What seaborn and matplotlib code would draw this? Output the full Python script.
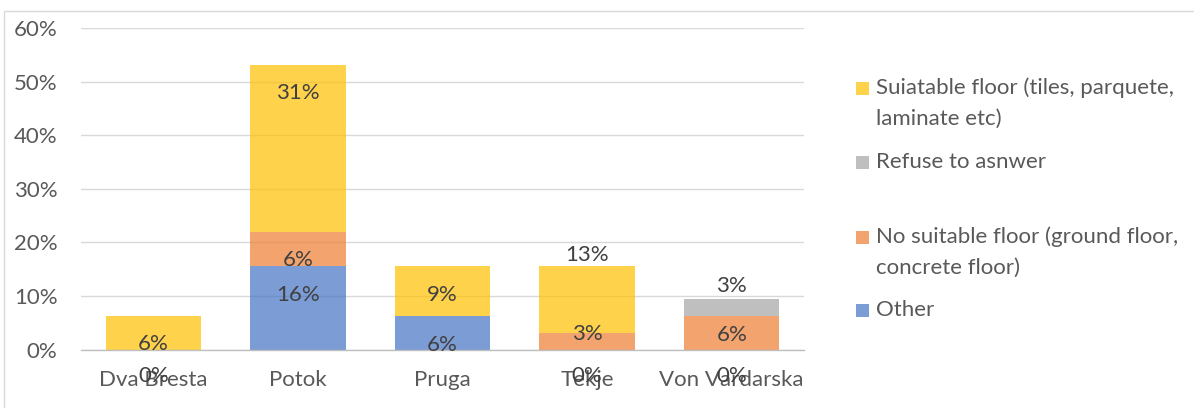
import numpy as np
import matplotlib
matplotlib.use("Agg")
import matplotlib.pyplot as plt
import seaborn as sns
from matplotlib.patches import Rectangle

# Locations and response shares (%)
categories = ["Dva Bresta", "Potok", "Pruga", "Tekje", "Von Vardarska"]
series_names = [
    "Other",
    "No suitable floor (ground floor,\nconcrete floor)",
    "Refuse to asnwer",
    "Suiatable floor (tiles, parquete,\nlaminate etc)",
]
other = [0.0, 15.625, 6.25, 0.0, 0.0]
no_suitable = [np.nan, 6.25, np.nan, 3.125, 6.25]
refuse = [np.nan, np.nan, np.nan, np.nan, 3.125]
suitable = [6.25, 31.25, 9.375, 12.5, np.nan]
yticks = [0, 10, 20, 30, 40, 50, 60]

# Where each data label sits (in % units on the value axis)
label_y_other = [-4.9, 10.2, 0.8, -4.9, -4.9]
label_y_no_suitable = [None, 16.7, None, 2.9, 2.7]
label_y_refuse = [None, None, None, None, 11.9]
label_y_suitable = [1.0, 47.8, 10.2, 17.6, None]

colors = ["#4472C4", "#ED7D31", "#A5A5A5", "#FFC000"]
ALPHA = 0.7
FONT = ["Lato", "DejaVu Sans"]
TEXT = "#595959"
LABEL = "#404040"
FS = 16

sns.set_theme(style="white")
plt.rcParams["font.family"] = FONT

fig = plt.figure(figsize=(11.94, 4.08), dpi=100)
W, H = 1194, 408

# chart frame
fig.patches.append(Rectangle((4 / W, -0.1), 1.2, (408 - 11) / H + 0.1,
                             transform=fig.transFigure, fill=False,
                             edgecolor="#D9D9D9", lw=1.0))

ax = fig.add_axes([81 / W, (408 - 349.5) / H, 723 / W, (349.5 - 28) / H])

all_series = [other, no_suitable, refuse, suitable]
all_label_y = [label_y_other, label_y_no_suitable, label_y_refuse, label_y_suitable]

bottom = np.zeros(len(categories))
for vals, col in zip(all_series, colors):
    v = np.nan_to_num(np.array(vals, dtype=float))
    sns.barplot(x=categories, y=v, bottom=bottom, color=col, alpha=ALPHA,
                saturation=1, width=0.66, errorbar=None, order=categories,
                linewidth=0, ax=ax, zorder=2)
    bottom = bottom + v

# data labels
for vals, ly in zip(all_series, all_label_y):
    for i, (v, y) in enumerate(zip(vals, ly)):
        if v is None or np.isnan(v) or y is None:
            continue
        ax.text(i, y, f"{int(v + 0.5)}%", ha="center", va="center",
                fontsize=FS, color=LABEL, clip_on=False, zorder=5)

ax.set_xlim(-0.5, len(categories) - 0.5)
ax.set_ylim(0, 60)
ax.set_yticks(yticks)
ax.set_yticklabels([f"{t}%" for t in yticks])
ax.set_xlabel("")
ax.set_ylabel("")
ax.yaxis.grid(True, color="#D9D9D9", lw=1.0, zorder=0)
ax.set_axisbelow(True)
for s in ["top", "right", "left"]:
    ax.spines[s].set_visible(False)
ax.spines["bottom"].set_color("#BFBFBF")
ax.spines["bottom"].set_linewidth(1.0)
ax.tick_params(axis="both", length=0, labelsize=FS, labelcolor=TEXT)
ax.tick_params(axis="y", pad=17)
ax.tick_params(axis="x", pad=15)

# legend, drawn top to bottom in reverse stacking order
legend_y = [88, 162, 237, 310]
for name, col, yp in zip(series_names[::-1], colors[::-1], legend_y):
    fig.patches.append(Rectangle((856 / W, 1 - (yp + 6.5) / H), 13 / W, 13 / H,
                                 transform=fig.transFigure, facecolor=col,
                                 alpha=ALPHA, edgecolor="none"))
    for k, line in enumerate(name.split("\n")):
        fig.text(876 / W, 1 - (yp + 31 * k) / H, line, ha="left", va="center",
                 fontsize=FS, color=TEXT)

fig.savefig("out.png", dpi=100)
